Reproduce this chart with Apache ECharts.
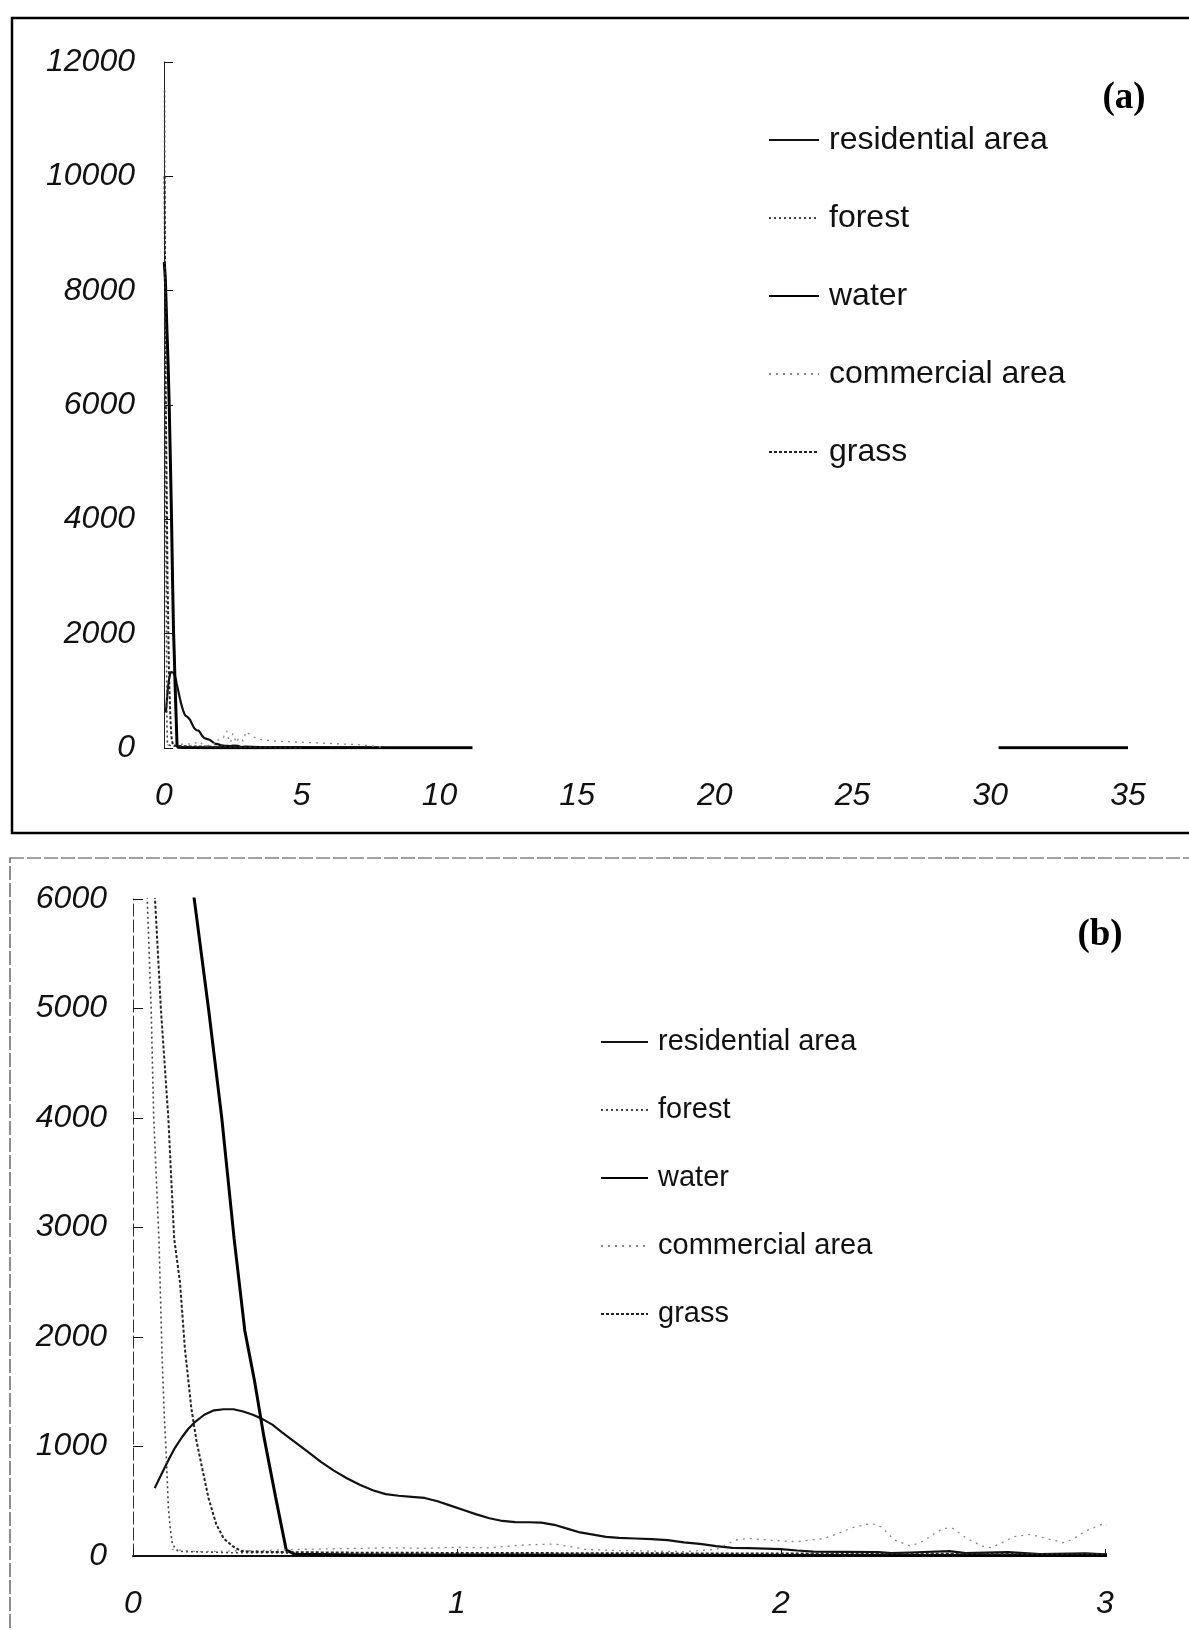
<!DOCTYPE html>
<html>
<head>
<meta charset="utf-8">
<style>
  html, body { margin: 0; padding: 0; background: #fff; }
  #chart { width: 1189px; height: 1630px; }
</style>
<script src="https://cdn.jsdelivr.net/npm/echarts@6/dist/echarts.min.js"></script>
</head>
<body>
<div id="chart"></div>
<script>
// class names, same order as the legends
const classNames = ['residential area', 'forest', 'water', 'commercial area', 'grass']

// axis ticks
const ticksA = { xMax: 35, xStep: 5, yMax: 12000, yStep: 2000 }
const ticksB = { xMax: 3, xStep: 1, yMax: 6000, yStep: 1000 }

// values (x = distance, y = count)
const residentialX = [0.067, 0.09, 0.11, 0.13, 0.15, 0.17, 0.19, 0.22, 0.25, 0.28, 0.31, 0.34, 0.37, 0.40, 0.43, 0.46, 0.50, 0.54, 0.58, 0.62, 0.66, 0.70, 0.74, 0.78, 0.82, 0.86, 0.90, 0.94, 0.98, 1.02, 1.06, 1.10, 1.14, 1.18, 1.22, 1.26, 1.30, 1.34, 1.38, 1.42, 1.46, 1.50, 1.55, 1.60, 1.65, 1.70, 1.75, 1.80, 1.85, 1.90, 1.95, 2.00, 2.05, 2.10, 2.20, 2.30, 2.34, 2.40, 2.52, 2.57, 2.70, 2.80, 2.94, 3.00, 3.5, 4, 5, 6, 7, 8]
const residentialY = [620, 760, 880, 990, 1080, 1160, 1220, 1290, 1330, 1340, 1340, 1320, 1290, 1250, 1200, 1130, 1040, 950, 860, 780, 710, 650, 600, 565, 550, 540, 530, 500, 460, 420, 380, 345, 320, 310, 308, 305, 285, 250, 215, 195, 175, 165, 160, 155, 145, 125, 110, 90, 75, 72, 68, 62, 50, 40, 38, 36, 26, 32, 44, 26, 36, 18, 24, 16, 15, 12, 10, 8, 6, 4]

const forestX = [0.02, 0.03, 0.044, 0.056, 0.064, 0.08, 0.09, 0.097, 0.103, 0.109, 0.115, 0.121, 0.13, 0.139, 0.16, 0.2, 0.25, 0.3, 0.4, 0.5, 0.7, 1.0, 1.5, 2.0, 2.5, 3.0, 4.0, 5.0, 6.0, 7.0]
const forestY = [11500, 9000, 6000, 5000, 4000, 2900, 1800, 1250, 900, 450, 250, 117, 70, 45, 40, 38, 35, 30, 30, 28, 25, 22, 20, 18, 15, 15, 10, 8, 5, 3]

const waterX = [0.01, 0.05, 0.1, 0.15, 0.189, 0.233, 0.274, 0.312, 0.345, 0.375, 0.404, 0.44, 0.473, 0.5, 0.7, 1.0, 1.5, 2.0, 2.5, 3.0, 4.0, 5.0, 6.0, 7.0, 8.0, 9.0, 10.0, 11.2, 20, 30.3, 35]
const waterY = [8500, 8200, 7400, 6700, 6000, 5000, 4000, 2900, 2060, 1600, 1090, 540, 55, 15, 10, 8, 6, 5, 5, 5, 5, 5, 5, 5, 5, 5, 5, 5, null, 5, 5]

const commercialX = [0.12, 0.2, 0.3, 0.4, 0.5, 0.6, 0.7, 0.8, 0.9, 1.0, 1.1, 1.2, 1.3, 1.4, 1.5, 1.6, 1.7, 1.8, 1.86, 1.9, 2.0, 2.05, 2.13, 2.17, 2.22, 2.28, 2.31, 2.35, 2.4, 2.44, 2.47, 2.5, 2.53, 2.57, 2.62, 2.65, 2.72, 2.77, 2.81, 2.87, 2.9, 2.94, 2.99, 3.2, 3.5, 4, 4.5, 5, 5.5, 6, 6.5, 7, 7.5, 8]
const commercialY = [60, 40, 45, 50, 60, 65, 70, 75, 70, 80, 75, 100, 110, 60, 50, 45, 40, 60, 146, 160, 137, 131, 158, 198, 259, 298, 265, 146, 91, 137, 198, 253, 253, 167, 91, 76, 177, 198, 167, 122, 152, 228, 289, 200, 150, 120, 110, 100, 90, 80, 70, 60, 40, 10]

const grassX = [0.02, 0.04, 0.068, 0.086, 0.109, 0.127, 0.145, 0.16, 0.18, 0.196, 0.215, 0.233, 0.257, 0.28, 0.31, 0.334, 0.36, 0.4, 0.5, 0.7, 1.0, 1.5, 2.0, 2.5, 3.0, 4.0, 5.0]
const grassY = [10000, 8200, 6000, 5000, 4000, 2900, 2500, 1900, 1350, 1050, 780, 530, 290, 160, 85, 45, 40, 38, 35, 30, 28, 25, 22, 20, 18, 10, 5]

const toPairs = (xs, ys) => xs.map((x, i) => [x, ys[i] == null ? '-' : ys[i]])

const seriesData = {
  'residential area': toPairs(residentialX, residentialY),
  'forest': toPairs(forestX, forestY),
  'water': toPairs(waterX, waterY),
  'commercial area': toPairs(commercialX, commercialY),
  'grass': toPairs(grassX, grassY)
}

const lineStyles = {
  'residential area': { color: '#111', width: 2.2, type: 'solid' },
  'forest': { color: '#444', width: 1.6, type: [2, 3] },
  'water': { color: '#000', width: 3, type: 'solid' },
  'commercial area': { color: '#888', width: 1.3, type: [2, 5] },
  'grass': { color: '#222', width: 2, type: [3, 2] }
}

const labelFont = {
  fontFamily: 'Liberation Sans',
  fontStyle: 'italic',
  fontSize: 32,
  color: '#111'
}

const makeSeries = (gridIndex) => classNames.map(name => ({
  name: name,
  type: 'line',
  xAxisIndex: gridIndex,
  yAxisIndex: gridIndex,
  symbol: 'none',
  clip: true,
  lineStyle: lineStyles[name],
  itemStyle: { color: lineStyles[name].color },
  data: seriesData[name]
}))

const makeLegend = (left, top, gap, fontSize, width) => ({
  data: classNames,
  orient: 'vertical',
  left: left,
  top: top,
  padding: 0,
  itemGap: gap,
  itemWidth: width,
  itemHeight: 14,
  selectedMode: false,
  // hide the centre dot, keep the line sample
  itemStyle: { opacity: 0 },
  textStyle: {
    fontFamily: 'Liberation Sans',
    fontSize: fontSize,
    color: '#111',
    lineHeight: 40,
    padding: [0, 0, 0, 5]
  }
})

const chart = echarts.init(document.getElementById('chart'))

const option = {
  backgroundColor: '#fff',
  animation: false,
  grid: [
    { left: 164, right: 61, top: 62, bottom: 882 },
    { left: 133, right: 84, top: 899, bottom: 74 }
  ],
  legend: [
    makeLegend(768, 120, 38, 32, 50),
    makeLegend(600, 1022, 28, 29, 47)
  ],
  xAxis: [
    {
      type: 'value', gridIndex: 0,
      min: 0, max: ticksA.xMax, interval: ticksA.xStep,
      axisLine: { show: false },
      axisTick: { show: false },
      splitLine: { show: false },
      axisLabel: { ...labelFont, margin: 32 }
    },
    {
      type: 'value', gridIndex: 1,
      min: 0, max: ticksB.xMax, interval: ticksB.xStep,
      axisLine: { show: true, lineStyle: { color: '#111', width: 2 } },
      axisTick: { show: true, inside: true, length: 7, lineStyle: { color: '#111' } },
      splitLine: { show: false },
      axisLabel: { ...labelFont, margin: 32 }
    }
  ],
  yAxis: [
    {
      type: 'value', gridIndex: 0,
      min: 0, max: ticksA.yMax, interval: ticksA.yStep,
      axisLine: { show: true, lineStyle: { color: '#222', width: 1 } },
      axisTick: { show: true, inside: true, length: 9, lineStyle: { color: '#111' } },
      splitLine: { show: false },
      axisLabel: { ...labelFont, margin: 29, formatter: v => String(v) }
    },
    {
      type: 'value', gridIndex: 1,
      min: 0, max: ticksB.yMax, interval: ticksB.yStep,
      axisLine: { show: true, lineStyle: { color: '#333', width: 1, type: [12, 4] } },
      axisTick: { show: true, inside: true, length: 10, lineStyle: { color: '#111' } },
      splitLine: { show: false },
      axisLabel: { ...labelFont, margin: 26, formatter: v => String(v) }
    }
  ],
  graphic: [
    {
      type: 'rect', silent: true,
      shape: { x: 12, y: 18, width: 1200, height: 815 },
      style: { fill: 'none', stroke: '#000', lineWidth: 2.5 }
    },
    {
      type: 'rect', silent: true,
      shape: { x: 10, y: 858, width: 1200, height: 800 },
      style: { fill: 'none', stroke: '#444', lineWidth: 1.2, lineDash: [14, 3] }
    },
    {
      type: 'text', silent: true,
      x: 1124, y: 98,
      style: { text: '(a)', font: 'bold 37px "Liberation Serif"', fill: '#000', textAlign: 'center', textVerticalAlign: 'middle' }
    },
    {
      type: 'text', silent: true,
      x: 1100, y: 935,
      style: { text: '(b)', font: 'bold 37px "Liberation Serif"', fill: '#000', textAlign: 'center', textVerticalAlign: 'middle' }
    }
  ],
  series: [...makeSeries(0), ...makeSeries(1)]
}

chart.setOption(option)
</script>
</body>
</html>
